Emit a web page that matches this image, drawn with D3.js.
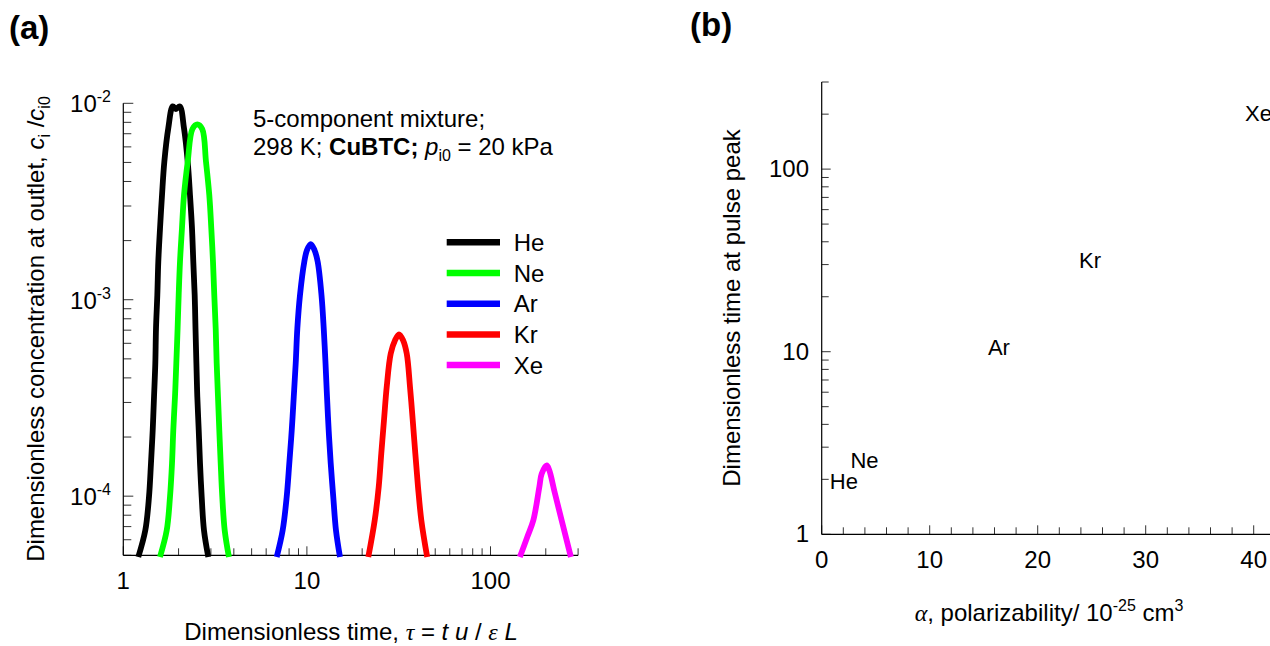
<!DOCTYPE html>
<html>
<head>
<meta charset="utf-8">
<script src="https://cdn.jsdelivr.net/npm/d3@7"></script>
<style>
  html, body { margin: 0; padding: 0; background: #ffffff; }
  svg { display: block; font-family: "Liberation Sans", Arial, Helvetica, sans-serif; }
</style>
</head>
<body>
<svg id="chart" width="1270" height="646"></svg>
<script>
// ---- pulse responses: dimensionless time tau vs c_i/c_i0 ----
const gases  = ["He", "Ne", "Ar", "Kr", "Xe"];
const colors = ["#000000", "#00ff00", "#0000ff", "#ff0000", "#ff00ff"];

const heTau  = [1.207, 1.318, 1.380, 1.415, 1.446, 1.470, 1.494, 1.507, 1.532, 1.551, 1.585, 1.625, 1.673, 1.758, 1.86, 1.935, 2.03, 2.141, 2.243, 2.308, 2.367, 2.406, 2.448, 2.473, 2.501, 2.530, 2.575, 2.617, 2.673, 2.751, 2.904];
const heConc = [4.9e-5, 6.7e-5, 9.9e-5, 1.47e-4, 2.17e-4, 3.2e-4, 4.74e-4, 7.14e-4, 1.055e-3, 1.56e-3, 2.31e-3, 3.41e-3, 5.04e-3, 7.46e-3, 9.65e-3, 9.35e-3, 9.65e-3, 7.46e-3, 5.04e-3, 3.41e-3, 2.31e-3, 1.56e-3, 1.055e-3, 7.14e-4, 4.74e-4, 3.2e-4, 2.17e-4, 1.47e-4, 9.9e-5, 6.7e-5, 4.9e-5];

const neTau  = [1.584, 1.724, 1.796, 1.842, 1.872, 1.912, 1.944, 1.976, 2.003, 2.036, 2.087, 2.141, 2.243, 2.38, 2.53, 2.69, 2.821, 2.940, 3.015, 3.080, 3.130, 3.186, 3.226, 3.279, 3.333, 3.392, 3.461, 3.567, 3.76];
const neConc = [4.9e-5, 6.7e-5, 9.9e-5, 1.47e-4, 2.17e-4, 3.2e-4, 4.74e-4, 7.14e-4, 1.055e-3, 1.56e-3, 2.31e-3, 3.41e-3, 5.04e-3, 7.4e-3, 7.82e-3, 7.4e-3, 5.04e-3, 3.41e-3, 2.31e-3, 1.56e-3, 1.055e-3, 7.14e-4, 4.74e-4, 3.2e-4, 2.17e-4, 1.47e-4, 9.9e-5, 6.7e-5, 4.9e-5];

const arTau  = [6.85, 7.38, 7.76, 8.02, 8.27, 8.48, 8.69, 8.87, 9.17, 9.68, 10.01, 10.49, 11.0, 11.45, 12.01, 12.35, 12.63, 12.87, 13.14, 13.48, 13.92, 14.40, 15.14];
const arConc = [4.9e-5, 6.7e-5, 9.9e-5, 1.47e-4, 2.17e-4, 3.2e-4, 4.74e-4, 7.14e-4, 1.055e-3, 1.56e-3, 1.79e-3, 1.92e-3, 1.79e-3, 1.56e-3, 1.055e-3, 7.14e-4, 4.74e-4, 3.2e-4, 2.17e-4, 1.47e-4, 9.9e-5, 6.7e-5, 4.9e-5];

const krTau  = [21.6, 23.41, 24.61, 25.42, 26.30, 27.21, 28.61, 30.2, 31.74, 33.4, 34.97, 36.44, 37.70, 38.95, 40.29, 42.00, 45.2];
const krConc = [4.9e-5, 7.54e-5, 1.114e-4, 1.648e-4, 2.44e-4, 3.60e-4, 5.32e-4, 6.22e-4, 6.67e-4, 6.22e-4, 5.32e-4, 3.60e-4, 2.44e-4, 1.648e-4, 1.114e-4, 7.54e-5, 4.9e-5];

const xeTau  = [144.5, 158.6, 171.1, 184.5, 190, 202.4, 209, 224.5, 274];
const xeConc = [4.9e-5, 6.2e-5, 7.54e-5, 1.114e-4, 1.30e-4, 1.434e-4, 1.355e-4, 1.03e-4, 4.9e-5];

// ---- peak times vs polarizability ----
const polarizability = [2.05, 3.96, 16.41, 24.84, 40.44];   // 10^-25 cm^3
const peakTau        = [1.94, 2.53, 10.49, 31.74, 202.4];

// ---- axis ticks ----
const aXTickValues = [1, 10, 100];
const aXTickLabels = ["1", "10", "100"];
const aYTickValues = [1e-4, 1e-3, 1e-2];
const aYTickExps   = ["-4", "-3", "-2"];
const bXTickValues = [0, 10, 20, 30, 40];
const bXTickLabels = ["0", "10", "20", "30", "40"];
const bYTickValues = [1, 10, 100];
const bYTickLabels = ["1", "10", "100"];

const curves = [
  d3.zip(heTau, heConc), d3.zip(neTau, neConc), d3.zip(arTau, arConc),
  d3.zip(krTau, krConc), d3.zip(xeTau, xeConc)
];

const svg = d3.select("#chart");
const SERIF = "'Liberation Serif', 'DejaVu Serif', serif";

// ================= panel (a) =================
const xA = d3.scaleLog().domain([1, 300]).range([123.3, 578.1]);
const yA = d3.scaleLog().domain([5e-5, 1e-2]).range([555.3, 103.3]);

const gA = svg.append("g");

// minor + major ticks (pointing inward)
const tickColor = "#333";
gA.append("g").selectAll("line").data(xA.ticks()).join("line")
  .attr("x1", d => xA(d)).attr("x2", d => xA(d))
  .attr("y1", yA.range()[0])
  .attr("y2", d => yA.range()[0] - (aXTickValues.includes(d) ? 9 : 7))
  .attr("stroke", tickColor).attr("stroke-width", 1);
gA.append("g").selectAll("line").data(yA.ticks()).join("line")
  .attr("y1", d => yA(d)).attr("y2", d => yA(d))
  .attr("x1", xA.range()[0])
  .attr("x2", d => xA.range()[0] + (aYTickValues.some(v => Math.abs(v - d) / v < 1e-6) ? 10 : 8))
  .attr("stroke", tickColor).attr("stroke-width", 1);

// axis lines
gA.append("line").attr("x1", xA.range()[0]).attr("x2", xA.range()[1])
  .attr("y1", yA.range()[0]).attr("y2", yA.range()[0]).attr("stroke", "#000").attr("stroke-width", 1.2);
gA.append("line").attr("x1", xA.range()[0]).attr("x2", xA.range()[0])
  .attr("y1", yA.range()[0]).attr("y2", yA.range()[1]).attr("stroke", "#000").attr("stroke-width", 1.2);

// tick labels
gA.append("g").selectAll("text").data(aXTickValues).join("text")
  .attr("x", d => xA(d)).attr("y", 589)
  .attr("text-anchor", "middle").style("font-size", "24px")
  .text((d, i) => aXTickLabels[i]);
const yLab = gA.append("g").selectAll("text").data(aYTickValues).join("text")
  .attr("x", 111).attr("y", d => yA(d) + 9)
  .attr("text-anchor", "end").style("font-size", "24px");
yLab.append("tspan").text("10");
yLab.append("tspan").attr("dy", -10).style("font-size", "16px").text((d, i) => aYTickExps[i]);

// curves
const lineA = d3.line().x(d => xA(d[0])).y(d => yA(d[1])).curve(d3.curveCatmullRom.alpha(0.5));
gA.append("g").selectAll("path").data(curves).join("path")
  .attr("d", lineA).attr("fill", "none")
  .attr("stroke", (d, i) => colors[i]).attr("stroke-width", 5.8)
  .attr("stroke-linejoin", "round");

// legend
const leg = gA.append("g").selectAll("g").data(gases).join("g")
  .attr("transform", (d, i) => `translate(446.7, ${242.3 + i * 30.7})`);
leg.append("line").attr("x1", 0).attr("x2", 53.3).attr("y1", 0).attr("y2", 0)
  .attr("stroke", (d, i) => colors[i]).attr("stroke-width", 6.5);
leg.append("text").attr("x", 67).attr("y", 8.5).style("font-size", "24px").text(d => d);

// annotation
const note = gA.append("text").attr("x", 253).attr("y", 127).style("font-size", "24px");
note.append("tspan").attr("x", 253).text("5-component mixture;");
const l2 = gA.append("text").attr("x", 253).attr("y", 155).style("font-size", "24px");
l2.append("tspan").text("298 K; ");
l2.append("tspan").style("font-weight", "bold").text("CuBTC;");
l2.append("tspan").text(" ");
l2.append("tspan").style("font-style", "italic").text("p");
l2.append("tspan").attr("dy", 6).style("font-size", "16px").text("i0");
l2.append("tspan").attr("dy", -6).text(" = 20 kPa");

// axis titles
const xtA = gA.append("text").attr("x", 351).attr("y", 640)
  .attr("text-anchor", "middle").style("font-size", "24px");
xtA.append("tspan").text("Dimensionless time, ");
xtA.append("tspan").style("font-family", SERIF).style("font-style", "italic").text("\u03C4");
xtA.append("tspan").text(" = ");
xtA.append("tspan").style("font-style", "italic").text("t u");
xtA.append("tspan").text(" / ");
xtA.append("tspan").style("font-family", SERIF).style("font-style", "italic").text("\u03B5");
xtA.append("tspan").text(" ");
xtA.append("tspan").style("font-style", "italic").text("L");

const ytA = gA.append("text").attr("transform", "translate(44,329) rotate(-90)")
  .attr("text-anchor", "middle").style("font-size", "24px");
ytA.append("tspan").text("Dimensionless concentration at outlet, ");
ytA.append("tspan").style("font-style", "italic").text("c");
ytA.append("tspan").attr("dy", 6).style("font-size", "16px").text("i");
ytA.append("tspan").attr("dy", -6).text(" /");
ytA.append("tspan").style("font-style", "italic").text("c");
ytA.append("tspan").attr("dy", 6).style("font-size", "16px").text("i0");

svg.append("text").attr("x", 9).attr("y", 39).style("font-size", "33px")
  .style("font-weight", "bold").text("(a)");

// ================= panel (b) =================
const xB = d3.scaleLinear().domain([0, 50]).range([821.7, 1361.7]);
const yB = d3.scaleLog().domain([1, 300]).range([534.3, 82]);

const gB = svg.append("g");

gB.append("g").selectAll("line").data(xB.ticks(25)).join("line")
  .attr("x1", d => xB(d)).attr("x2", d => xB(d))
  .attr("y1", yB.range()[0])
  .attr("y2", d => yB.range()[0] - (d % 10 === 0 ? 9 : 7))
  .attr("stroke", tickColor).attr("stroke-width", 1);
gB.append("g").selectAll("line").data(yB.ticks()).join("line")
  .attr("y1", d => yB(d)).attr("y2", d => yB(d))
  .attr("x1", xB.range()[0])
  .attr("x2", d => xB.range()[0] + (bYTickValues.includes(d) ? 9 : 7))
  .attr("stroke", tickColor).attr("stroke-width", 1);

gB.append("line").attr("x1", xB.range()[0]).attr("x2", xB.range()[1])
  .attr("y1", yB.range()[0]).attr("y2", yB.range()[0]).attr("stroke", "#000").attr("stroke-width", 1.2);
gB.append("line").attr("x1", xB.range()[0]).attr("x2", xB.range()[0])
  .attr("y1", yB.range()[0]).attr("y2", yB.range()[1]).attr("stroke", "#000").attr("stroke-width", 1.2);

gB.append("g").selectAll("text").data(bXTickValues).join("text")
  .attr("x", d => xB(d)).attr("y", 568)
  .attr("text-anchor", "middle").style("font-size", "24px")
  .text((d, i) => bXTickLabels[i]);
gB.append("g").selectAll("text").data(bYTickValues).join("text")
  .attr("x", 809).attr("y", d => yB(d) + 8)
  .attr("text-anchor", "end").style("font-size", "24px")
  .text((d, i) => bYTickLabels[i]);

// gas labels placed at (polarizability, peak time)
gB.append("g").selectAll("text").data(gases).join("text")
  .attr("x", (d, i) => xB(polarizability[i]))
  .attr("y", (d, i) => yB(peakTau[i]))
  .attr("text-anchor", "middle").attr("dominant-baseline", "central")
  .style("font-size", "22px").text(d => d);

const xtB = gB.append("text").attr("x", 1049).attr("y", 621)
  .attr("text-anchor", "middle").style("font-size", "24px");
xtB.append("tspan").style("font-family", SERIF).style("font-style", "italic").text("\u03B1");
xtB.append("tspan").text(", polarizability/ 10");
xtB.append("tspan").attr("dy", -10).style("font-size", "16px").text("-25");
xtB.append("tspan").attr("dy", 10).text(" cm");
xtB.append("tspan").attr("dy", -10).style("font-size", "16px").text("3");

gB.append("text").attr("transform", "translate(740,308) rotate(-90)")
  .attr("text-anchor", "middle").style("font-size", "24px")
  .text("Dimensionless time at pulse peak");

svg.append("text").attr("x", 690).attr("y", 36).style("font-size", "33px")
  .style("font-weight", "bold").text("(b)");
</script>
</body>
</html>
